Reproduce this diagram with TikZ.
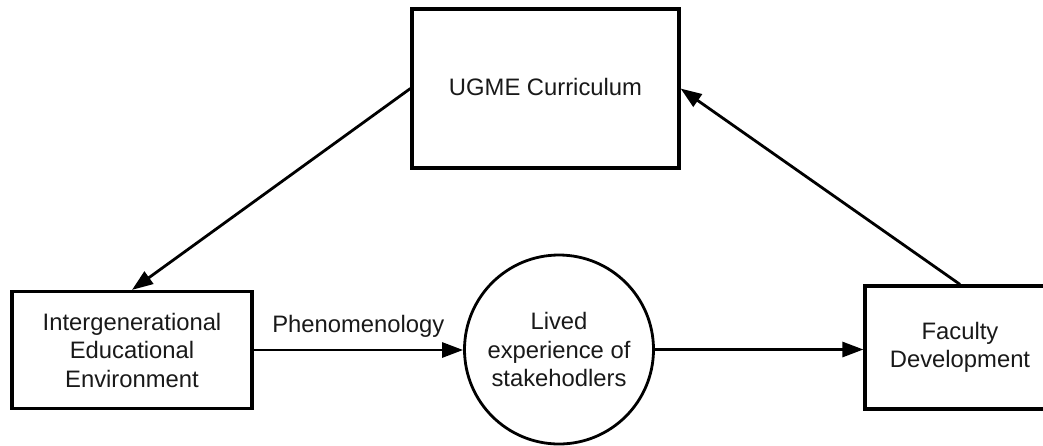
\documentclass[tikz,border=0pt]{standalone}
\usepackage{fontspec}
\setmainfont{Liberation Sans}
\usetikzlibrary{arrows.meta}
\begin{document}
\begin{tikzpicture}[x=1pt,y=-1pt,
  txt/.style={font=\fontsize{23.8}{28.5}\selectfont, text=black!90},
  box/.style={draw, line width=3.2pt, inner sep=0pt, align=center, txt},
  bubble/.style={draw, circle, line width=2.8pt, minimum size=189pt, inner sep=0pt, align=center, txt},
  link/.style={line width=2.8pt, -{Triangle[length=21pt,width=15pt]}}
]
\useasboundingbox (0,0) rectangle (1043,445);
\fill[white] (0,0) rectangle (1043,445);

% nodes
\node[box, minimum width=267pt, minimum height=159pt] (ugme) at (545.5,88.5) {\raisebox{3pt}{UGME Curriculum}};
\node[box, minimum width=240pt, minimum height=117pt] (iee) at (132,350) {Intergenerational\\Educational\\Environment};
\node[bubble] (lived) at (559,349.5) {Lived\\experience of\\stakehodlers};
\node[box, minimum width=190pt, minimum height=123pt] (fac) at (960,347.5) {Faculty\\Development};

% connectors
\draw[link] (ugme.west) -- (iee.north);
\draw[link] (fac.north) -- (ugme.east);
\draw[link] (iee.east) -- node[midway, above=11pt, inner sep=0pt, txt] (phen) {Phenomenology} (iee.east -| lived.west);
\draw[link] (lived.east) -- (lived.east -| fac.west);
\end{tikzpicture}
\end{document}
